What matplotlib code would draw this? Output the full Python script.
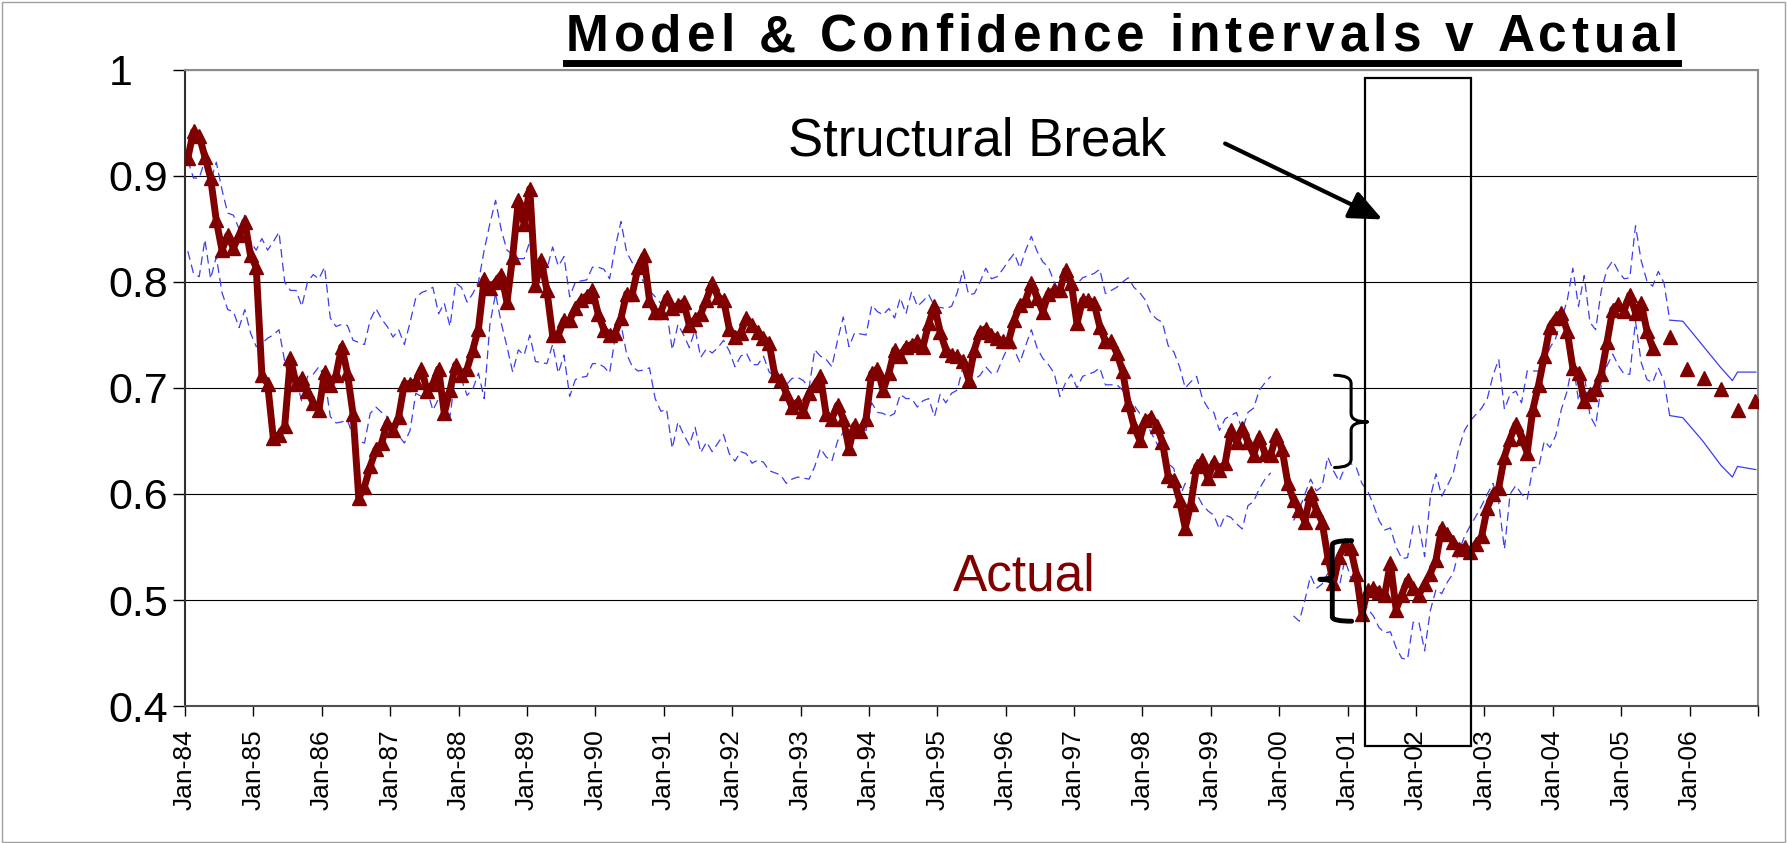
import numpy as np
import matplotlib.pyplot as plt
from matplotlib.path import Path
from matplotlib.patches import PathPatch, Rectangle
from matplotlib.lines import Line2D

plt.rcParams['font.family'] = ['Liberation Sans', 'DejaVu Sans']

# monthly actual, Jan-84 .. Jun-05
actual = [
    0.917, 0.942, 0.938, 0.918, 0.898, 0.858, 0.830, 0.844, 0.832, 0.844,
    0.857, 0.825, 0.814, 0.712, 0.704, 0.653, 0.656, 0.664, 0.728, 0.704,
    0.709, 0.697, 0.686, 0.679, 0.715, 0.703, 0.712, 0.739, 0.714, 0.675,
    0.596, 0.607, 0.626, 0.642, 0.648, 0.667, 0.660, 0.673, 0.704, 0.704,
    0.706, 0.718, 0.697, 0.704, 0.718, 0.676, 0.698, 0.722, 0.712, 0.718,
    0.736, 0.756, 0.803, 0.794, 0.800, 0.807, 0.781, 0.824, 0.877, 0.855,
    0.888, 0.797, 0.821, 0.792, 0.750, 0.750, 0.764, 0.764, 0.775, 0.783,
    0.787, 0.792, 0.770, 0.755, 0.750, 0.752, 0.766, 0.789, 0.789, 0.814,
    0.825, 0.783, 0.772, 0.772, 0.786, 0.775, 0.778, 0.781, 0.759, 0.765,
    0.770, 0.783, 0.799, 0.786, 0.783, 0.756, 0.748, 0.752, 0.766, 0.759,
    0.753, 0.747, 0.742, 0.712, 0.708, 0.695, 0.682, 0.687, 0.678, 0.695,
    0.703, 0.711, 0.675, 0.671, 0.684, 0.671, 0.643, 0.665, 0.659, 0.671,
    0.714, 0.718, 0.698, 0.714, 0.736, 0.730, 0.739, 0.741, 0.744, 0.739,
    0.761, 0.777, 0.753, 0.736, 0.731, 0.730, 0.725, 0.708, 0.736, 0.753,
    0.756, 0.750, 0.747, 0.744, 0.744, 0.764, 0.778, 0.783, 0.799, 0.785,
    0.772, 0.789, 0.792, 0.792, 0.811, 0.799, 0.761, 0.783, 0.783, 0.780,
    0.758, 0.744, 0.744, 0.733, 0.716, 0.685, 0.664, 0.651, 0.670, 0.673,
    0.664, 0.649, 0.617, 0.613, 0.594, 0.568, 0.591, 0.626, 0.632, 0.615,
    0.630, 0.623, 0.629, 0.660, 0.649, 0.662, 0.649, 0.637, 0.654, 0.638,
    0.637, 0.656, 0.642, 0.610, 0.594, 0.585, 0.574, 0.601, 0.585, 0.574,
    0.541, 0.516, 0.541, 0.552, 0.549, 0.525, 0.487, 0.509, 0.511, 0.508,
    0.505, 0.535, 0.491, 0.505, 0.519, 0.511, 0.505, 0.515, 0.525, 0.538,
    0.568, 0.562, 0.555, 0.548, 0.550, 0.545, 0.553, 0.560, 0.587, 0.600,
    0.606, 0.635, 0.652, 0.666, 0.653, 0.639, 0.680, 0.703, 0.730, 0.758,
    0.766, 0.771, 0.754, 0.719, 0.714, 0.688, 0.694, 0.699, 0.713, 0.743,
    0.774, 0.779, 0.773, 0.788, 0.771, 0.780, 0.754, 0.738,
]

# quarterly forecast points (month index from Jan-84)
forecast_months = [260, 263, 266, 269, 272, 275]
forecast = [0.748, 0.718, 0.709, 0.699, 0.679, 0.688]

# confidence interval of the first model, Jan-84 .. Nov-99
upper_a = [
    0.915, 0.898, 0.898, 0.915, 0.895, 0.913, 0.887, 0.865, 0.863, 0.850,
    0.863, 0.838, 0.830, 0.841, 0.830, 0.838, 0.847, 0.800, 0.792, 0.792,
    0.777, 0.800, 0.807, 0.803, 0.814, 0.766, 0.758, 0.760, 0.759, 0.745,
    0.743, 0.741, 0.764, 0.775, 0.765, 0.758, 0.748, 0.755, 0.741, 0.762,
    0.785, 0.790, 0.792, 0.795, 0.770, 0.780, 0.758, 0.799, 0.795, 0.781,
    0.789, 0.800, 0.830, 0.855, 0.877, 0.849, 0.830, 0.826, 0.822, 0.822,
    0.838, 0.815, 0.810, 0.812, 0.833, 0.815, 0.824, 0.786, 0.800, 0.801,
    0.802, 0.814, 0.814, 0.812, 0.803, 0.833, 0.857, 0.828, 0.818, 0.808,
    0.800, 0.792, 0.786, 0.780, 0.773, 0.736, 0.760, 0.750, 0.738, 0.755,
    0.729, 0.737, 0.733, 0.738, 0.745, 0.735, 0.720, 0.730, 0.733, 0.722,
    0.722, 0.730, 0.715, 0.711, 0.710, 0.703, 0.709, 0.710, 0.707, 0.700,
    0.736, 0.730, 0.727, 0.720, 0.745, 0.767, 0.739, 0.752, 0.751, 0.750,
    0.778, 0.772, 0.769, 0.775, 0.766, 0.785, 0.770, 0.791, 0.777, 0.782,
    0.788, 0.777, 0.776, 0.775, 0.777, 0.790, 0.811, 0.788, 0.789, 0.800,
    0.813, 0.803, 0.805, 0.812, 0.820, 0.827, 0.813, 0.830, 0.843, 0.829,
    0.819, 0.814, 0.800, 0.791, 0.804, 0.791, 0.798, 0.804, 0.806, 0.808,
    0.812, 0.789, 0.792, 0.795, 0.800, 0.804, 0.795, 0.790, 0.783, 0.770,
    0.765, 0.762, 0.740, 0.734, 0.720, 0.700, 0.706, 0.711, 0.690, 0.681,
    0.677, 0.660, 0.671, 0.674, 0.677, 0.660, 0.677, 0.681, 0.698, 0.705,
    0.711,
]
lower_a = [
    0.829, 0.808, 0.805, 0.840, 0.803, 0.824, 0.790, 0.774, 0.772, 0.757,
    0.774, 0.752, 0.739, 0.742, 0.747, 0.750, 0.755, 0.725, 0.704, 0.709,
    0.687, 0.711, 0.713, 0.720, 0.710, 0.673, 0.667, 0.668, 0.670, 0.654,
    0.650, 0.648, 0.676, 0.682, 0.677, 0.673, 0.659, 0.655, 0.648, 0.660,
    0.695, 0.692, 0.698, 0.679, 0.690, 0.685, 0.673, 0.714, 0.708, 0.693,
    0.699, 0.714, 0.690, 0.760, 0.789, 0.761, 0.739, 0.715, 0.736, 0.731,
    0.750, 0.725, 0.724, 0.723, 0.741, 0.714, 0.731, 0.692, 0.708, 0.710,
    0.711, 0.723, 0.723, 0.720, 0.714, 0.748, 0.760, 0.732, 0.720, 0.716,
    0.717, 0.719, 0.690, 0.678, 0.680, 0.643, 0.668, 0.656, 0.646, 0.663,
    0.639, 0.649, 0.640, 0.648, 0.656, 0.638, 0.631, 0.640, 0.638, 0.629,
    0.632, 0.630, 0.622, 0.620, 0.618, 0.610, 0.614, 0.616, 0.615, 0.614,
    0.626, 0.643, 0.635, 0.631, 0.650, 0.658, 0.664, 0.662, 0.661, 0.660,
    0.686, 0.677, 0.676, 0.673, 0.676, 0.694, 0.690, 0.690, 0.682, 0.688,
    0.690, 0.673, 0.694, 0.686, 0.695, 0.698, 0.720, 0.700, 0.708, 0.712,
    0.720, 0.714, 0.715, 0.728, 0.740, 0.736, 0.724, 0.740, 0.755, 0.738,
    0.728, 0.722, 0.714, 0.692, 0.705, 0.713, 0.700, 0.711, 0.713, 0.715,
    0.719, 0.703, 0.703, 0.703, 0.698, 0.690, 0.684, 0.676, 0.669, 0.658,
    0.648, 0.635, 0.629, 0.624, 0.597, 0.610, 0.605, 0.600, 0.590, 0.584,
    0.580, 0.567, 0.580, 0.578, 0.572, 0.567, 0.589, 0.593, 0.605, 0.614,
    0.620,
]

# confidence interval of the re-estimated model, Mar-00 .. Sep-05
band_b_start = 194
upper_b = [
    0.575, 0.585, 0.600, 0.614, 0.603, 0.607, 0.635, 0.622, 0.612, 0.625,
    0.629, 0.625, 0.610, 0.603, 0.590, 0.575, 0.566, 0.568, 0.550, 0.539,
    0.540, 0.570, 0.570, 0.541, 0.597, 0.619, 0.598, 0.608, 0.619, 0.643,
    0.660, 0.669, 0.675, 0.681, 0.690, 0.712, 0.727, 0.680, 0.694, 0.697,
    0.686, 0.716, 0.716, 0.716, 0.725, 0.738, 0.747, 0.765, 0.782, 0.813,
    0.777, 0.806, 0.762, 0.755, 0.792, 0.812, 0.820, 0.810, 0.803, 0.804,
    0.853, 0.820, 0.801, 0.796, 0.810, 0.799, 0.764,
]
lower_b = [
    0.485, 0.480, 0.500, 0.523, 0.511, 0.515, 0.525, 0.520, 0.512, 0.538,
    0.522, 0.515, 0.500, 0.492, 0.485, 0.474, 0.469, 0.470, 0.455, 0.445,
    0.444, 0.479, 0.479, 0.452, 0.490, 0.510, 0.506, 0.517, 0.525, 0.546,
    0.560, 0.570, 0.579, 0.589, 0.600, 0.610, 0.592, 0.548, 0.600, 0.608,
    0.600, 0.595, 0.625, 0.625, 0.650, 0.644, 0.655, 0.680, 0.697, 0.725,
    0.688, 0.713, 0.674, 0.664, 0.703, 0.721, 0.732, 0.721, 0.713, 0.713,
    0.763, 0.724, 0.708, 0.705, 0.719, 0.707, 0.674,
]

# forecast interval (solid)
fc_band_months = [260, 262.3, 265.8, 269, 271, 271.9, 275.1]
fc_upper = [0.764, 0.763, 0.740, 0.719, 0.707, 0.715, 0.715]
fc_lower = [0.674, 0.672, 0.650, 0.627, 0.616, 0.626, 0.623]

year_labels = ['Jan-84', 'Jan-85', 'Jan-86', 'Jan-87', 'Jan-88', 'Jan-89',
               'Jan-90', 'Jan-91', 'Jan-92', 'Jan-93', 'Jan-94', 'Jan-95',
               'Jan-96', 'Jan-97', 'Jan-98', 'Jan-99', 'Jan-00', 'Jan-01',
               'Jan-02', 'Jan-03', 'Jan-04', 'Jan-05', 'Jan-06']
n_months = 276
title = 'Model & Confidence intervals v Actual'

red = '#800000'
blue = '#3c3cf0'

fig = plt.figure(figsize=(17.87, 8.43), dpi=100)
ax = fig.add_axes([0.1035, 0.1625, 0.8803, 0.7545])

# bands
xa = np.arange(len(upper_a)) + 0.5
ax.plot(xa, upper_a, color=blue, lw=0.9, dashes=(7, 4))
ax.plot(xa, lower_a, color=blue, lw=0.9, dashes=(7, 4))
xb = np.arange(band_b_start, band_b_start + len(upper_b)) + 0.5
ax.plot(xb, upper_b, color=blue, lw=0.9, dashes=(7, 4))
ax.plot(xb, lower_b, color=blue, lw=0.9, dashes=(7, 4))
xc = np.array(fc_band_months) + 0.5
ax.plot(xc, fc_upper, color=blue, lw=0.9)
ax.plot(xc, fc_lower, color=blue, lw=0.9)

# actual
ax.plot(np.arange(len(actual)) + 0.5, actual, color=red, lw=5,
        marker='^', ms=10.5, zorder=5)
ax.plot(np.array(forecast_months) + 0.5, forecast, ls='none', marker='^',
        ms=10.5, color=red, zorder=5)

ax.set_xlim(0, n_months)
ax.set_ylim(0.4, 1.0)
ax.set_yticks([0.4, 0.5, 0.6, 0.7, 0.8, 0.9, 1.0])
ax.set_yticklabels(['0.4', '0.5', '0.6', '0.7', '0.8', '0.9', '1'])
ax.set_xticks(list(range(0, n_months + 1, 12)))
ax.set_xticklabels(year_labels + [''], rotation=90)
ax.yaxis.grid(True, color='black', lw=0.8)
ax.set_axisbelow(True)
ax.tick_params(axis='y', length=9, width=1, pad=46, labelsize=31)
ax.tick_params(axis='x', length=7, width=1, pad=10, labelsize=19)
for lab in ax.get_yticklabels():
    lab.set_horizontalalignment('left')

ax.spines['left'].set_color('#303030')
ax.spines['bottom'].set_color('#505050')
ax.spines['top'].set_color('#8c8c8c')
ax.spines['right'].set_color('#8c8c8c')
for s in ax.spines.values():
    s.set_linewidth(1.5)

# annotations
ax.text(105.8, 0.919, 'Structural Break', fontsize=38, va='baseline')
ax.text(134.7, 0.509, 'Actual', fontsize=37, color=red, va='baseline')
ax.annotate('', xy=(210.1, 0.859), xytext=(182.5, 0.9306),
            arrowprops=dict(arrowstyle='-|>,head_length=0.8,head_width=0.35',
                            lw=3, color='black', mutation_scale=25,
                            shrinkA=0, shrinkB=0))
ax.add_patch(Rectangle((207.0, 0.362), 18.7, 0.630, fill=False,
                       ec='black', lw=1.6, clip_on=False, zorder=6))


def brace(x_arm, x_spine, x_tip, y_top, y_mid, y_bot, r, lw):
    verts = [(x_arm, y_top), (x_spine, y_top), (x_spine, y_top - r),
             (x_spine, y_mid + r), (x_spine, y_mid), (x_tip, y_mid),
             (x_spine, y_mid), (x_spine, y_mid - r),
             (x_spine, y_bot + r), (x_spine, y_bot), (x_arm, y_bot)]
    codes = [Path.MOVETO, Path.CURVE3, Path.CURVE3, Path.LINETO,
             Path.CURVE3, Path.CURVE3, Path.CURVE3, Path.CURVE3,
             Path.LINETO, Path.CURVE3, Path.CURVE3]
    ax.add_patch(PathPatch(Path(verts, codes), fill=False, ec='black',
                           lw=lw, capstyle='round', joinstyle='round',
                           zorder=6))


brace(201.7, 204.6, 207.5, 0.712, 0.668, 0.625, 0.008, 2.2)
brace(204.7, 201.3, 199.1, 0.556, 0.5195, 0.480, 0.004, 3.5)

# title, letter-spaced to fill the underline
x0, x1 = 566 / 1787, 1678 / 1787
renderer = fig.canvas.get_renderer()
tkw = dict(fontsize=37, fontweight='bold', va='baseline')


def text_width(s):
    t = fig.text(0, 0, s, **tkw)
    w = t.get_window_extent(renderer).width
    t.remove()
    return w


bar_w = text_width('|')
full_w = text_width(title)
target_w = (x1 - x0) * fig.bbox.width
extra = (target_w - full_w) / (len(title) - 1)
for i, ch in enumerate(title):
    if ch == ' ':
        continue
    offset = (text_width(title[:i] + '|') - bar_w) if i else 0.0
    fig.text(x0 + (offset + i * extra) / fig.bbox.width, 0.9395, ch, **tkw)

fig.add_artist(Line2D([x0, x1], [0.9253, 0.9253], lw=5,
                      color='black', transform=fig.transFigure))
fig.add_artist(Rectangle((0.001, 0.001), 0.998, 0.997, fill=False,
                         ec='#a0a0a0', lw=1, transform=fig.transFigure))

fig.savefig('out.png', dpi=100)
